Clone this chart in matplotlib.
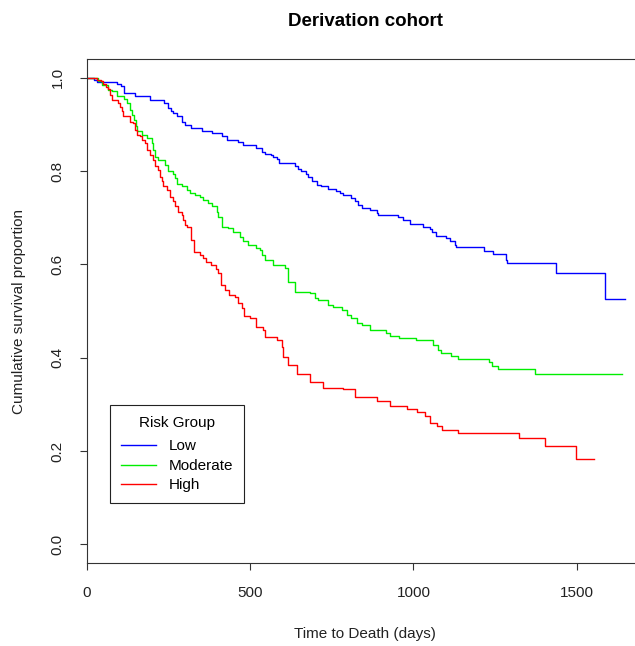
import numpy as np
import matplotlib.pyplot as plt

plt.rcParams['font.family'] = ['Liberation Sans', 'DejaVu Sans']

# Kaplan-Meier step points (days, survival)
low_t = [0, 20, 30, 92, 104, 112, 147, 193, 237, 247, 257, 264, 275, 290, 300, 320,
         351, 382, 414, 428, 463, 478, 519, 535, 545, 565, 570, 583, 589, 637, 647,
         657, 670, 678, 688, 703, 718, 739, 762, 774, 785, 810, 820, 830, 841, 866,
         887, 892, 953, 968, 989, 1029, 1050, 1058, 1070, 1099, 1113, 1126, 1130,
         1216, 1244, 1283, 1287, 1438, 1586, 1647]
low_s = [1.0, .995, .991, .987, .983, .968, .961, .953, .946, .935, .928, .924, .917,
         .906, .899, .892, .885, .881, .874, .867, .863, .856, .849, .840, .837, .835,
         .830, .826, .818, .810, .804, .799, .794, .788, .778, .771, .767, .762, .758,
         .753, .748, .742, .735, .727, .720, .717, .710, .706, .701, .694, .687, .681,
         .675, .670, .661, .656, .650, .642, .637, .629, .622, .609, .602, .582, .526,
         .526]

mod_t = [0, 35, 45, 65, 76, 91, 114, 122, 132, 137, 145, 149, 152, 167, 183, 198, 203,
         208, 218, 239, 249, 264, 269, 275, 290, 305, 315, 331, 346, 356, 371, 382, 397,
         402, 412, 433, 448, 468, 478, 494, 519, 530, 535, 545, 570, 606, 615, 637, 683,
         698, 708, 739, 754, 780, 795, 810, 826, 841, 866, 917, 927, 956, 1007, 1060,
         1075, 1085, 1116, 1137, 1231, 1242, 1259, 1371, 1640]
mod_s = [1.0, .992, .985, .974, .971, .961, .954, .946, .931, .921, .910, .896, .885,
         .878, .871, .860, .845, .831, .824, .813, .799, .794, .785, .772, .767, .760,
         .753, .749, .744, .738, .732, .724, .713, .702, .681, .677, .670, .659, .649,
         .642, .635, .631, .620, .609, .599, .592, .563, .541, .538, .527, .524, .513,
         .508, .502, .491, .484, .475, .470, .459, .453, .446, .442, .438, .427, .416,
         .411, .403, .397, .390, .382, .375, .364, .364]

high_t = [0, 30, 43, 50, 57, 65, 70, 77, 96, 101, 106, 111, 132, 142, 147, 152, 162,
          167, 178, 183, 193, 203, 208, 218, 223, 229, 234, 244, 254, 264, 269, 279,
          290, 295, 300, 305, 320, 329, 346, 356, 366, 380, 394, 402, 410, 422, 435,
          453, 463, 474, 482, 499, 519, 540, 545, 581, 596, 601, 616, 642, 683, 723,
          783, 820, 887, 927, 979, 1011, 1035, 1052, 1072, 1086, 1137, 1323, 1404,
          1497, 1553]
high_s = [1.0, .996, .992, .987, .981, .976, .963, .953, .946, .938, .928, .917, .906,
          .903, .888, .878, .874, .867, .860, .845, .835, .824, .810, .803, .788, .778,
          .767, .760, .745, .735, .724, .713, .706, .695, .685, .681, .652, .627, .620,
          .613, .606, .599, .590, .581, .556, .545, .534, .529, .518, .506, .489, .484,
          .466, .459, .445, .438, .423, .402, .384, .366, .348, .336, .332, .315, .308,
          .296, .289, .284, .275, .260, .254, .246, .238, .227, .211, .182, .182]

groups = ['Low', 'Moderate', 'High']
colors = ['#0000FF', '#00EE00', '#FF0000']

fig = plt.figure(figsize=(6.35, 6.46), dpi=100)
ax = fig.add_axes([87/635, 83/646, 555/635, 504/646])

for t, s, lab, c in zip([low_t, mod_t, high_t], [low_s, mod_s, high_s], groups, colors):
    ax.step(t, s, where='post', color=c, lw=1, label=lab)

ax.set_xlim(0, 1700)
ax.set_ylim(-0.04, 1.04)
ax.set_xticks([0, 500, 1000, 1500])
ax.set_yticks([0.0, 0.2, 0.4, 0.6, 0.8, 1.0])
ax.set_yticklabels(['0.0', '0.2', '0.4', '0.6', '0.8', '1.0'], rotation=90, va='center')
ax.tick_params(axis='both', labelsize=11, length=5, width=0.8, color='#333333',
               labelcolor='#222222')
ax.tick_params(axis='y', pad=11)
ax.tick_params(axis='x', pad=11.5)
ax.spines['right'].set_visible(False)
for sp in ['left', 'bottom', 'top']:
    ax.spines[sp].set_color('#333333')
    ax.spines[sp].set_linewidth(0.8)

ax.set_xlabel('Time to Death (days)', fontsize=11, labelpad=19.5, color='#222222')
ax.set_ylabel('Cumulative survival proportion', fontsize=11, labelpad=17.5, color='#222222')
fig.text(366/635, 1 - 22/646, 'Derivation cohort', ha='center', va='center',
         fontsize=13.5, fontweight='bold')

leg = ax.legend(title='Risk Group', loc='upper left', bbox_to_anchor=(23/555, 158/504),
                borderaxespad=0, fancybox=False, edgecolor='#222222', fontsize=11,
                title_fontsize=11, handlelength=2.3, handletextpad=0.85,
                labelspacing=0.36, borderpad=0.7, framealpha=1)
leg.get_frame().set_linewidth(0.8)
# a bit more room under the legend title, as in the original
leg._legend_box.sep = 7

fig.savefig('out.png', dpi=100)
